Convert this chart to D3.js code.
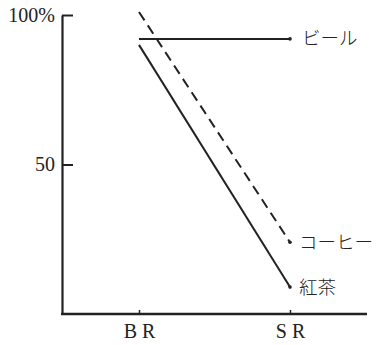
<!DOCTYPE html>
<html>
<head>
<meta charset="utf-8">
<script src="https://cdn.jsdelivr.net/npm/d3@7"></script>
<style>
  body { margin: 0; background: #fff; }
  text { fill: #222; }
</style>
</head>
<body>
<script>
var categories = ["B R", "S R"];
var beer = [92, 92];
var coffee = [101, 24];
var tea = [90, 9];
var seriesNames = ["ビール", "コーヒー", "紅茶"];
var yTicks = [50, 100];

var w = 378;
var h = 345;

var svg = d3.select("body")
    .append("svg")
    .attr("width", w)
    .attr("height", h);

var xScale = d3.scalePoint()
    .domain(categories)
    .range([139, 290]);

var yScale = d3.scaleLinear()
    .domain([0, 100])
    .range([314, 15]);

// y axis, ticks pointing right, labels on the left
var yAxis = d3.axisLeft(yScale)
    .tickValues(yTicks)
    .tickSizeInner(-11)
    .tickSizeOuter(0)
    .tickPadding(7)
    .tickFormat(function(d) { return d == 100 ? "100%" : d; });

var gy = svg.append("g")
    .attr("transform", "translate(62,0)")
    .call(yAxis);
gy.select(".domain").attr("stroke", "#222").attr("stroke-width", 2.2);
gy.selectAll(".tick line").attr("stroke", "#222").attr("stroke-width", 2);
gy.selectAll(".tick text")
    .style("font-family", "'Liberation Serif', 'DejaVu Serif', serif")
    .style("font-size", "20px")
    .attr("fill", "#222");

// x axis baseline
svg.append("line")
    .attr("x1", 61).attr("x2", 367)
    .attr("y1", 314).attr("y2", 314)
    .attr("stroke", "#222")
    .attr("stroke-width", 2.4);

var xAxis = d3.axisBottom(xScale)
    .tickSizeInner(-4)
    .tickSizeOuter(0)
    .tickPadding(10);

var gx = svg.append("g")
    .attr("transform", "translate(0,314)")
    .call(xAxis);
gx.select(".domain").remove();
gx.selectAll(".tick line").attr("stroke", "#222").attr("stroke-width", 1.5);
gx.selectAll(".tick text")
    .style("font-family", "'Liberation Serif', 'DejaVu Serif', serif")
    .style("font-size", "20px")
    .attr("fill", "#222");

var line = d3.line()
    .x(function(d, i) { return xScale(categories[i]); })
    .y(function(d) { return yScale(d); });

var series = [
  { name: seriesNames[0], values: beer, dash: null },
  { name: seriesNames[1], values: coffee, dash: "10,6" },
  { name: seriesNames[2], values: tea, dash: null }
];

svg.selectAll("path.series")
    .data(series)
    .enter()
    .append("path")
    .attr("class", "series")
    .attr("d", function(d) { return line(d.values); })
    .attr("fill", "none")
    .attr("stroke", "#222")
    .attr("stroke-width", 2)
    .attr("stroke-dasharray", function(d) { return d.dash; });

// end dots
svg.selectAll("circle.end")
    .data(series)
    .enter()
    .append("circle")
    .attr("class", "end")
    .attr("cx", xScale(categories[1]))
    .attr("cy", function(d) { return yScale(d.values[1]); })
    .attr("r", 1.8)
    .attr("fill", "#222");

svg.selectAll("text.label")
    .data(series)
    .enter()
    .append("text")
    .attr("class", "label")
    .attr("x", function(d, i) { return i == 0 ? 302 : 299; })
    .attr("y", function(d) { return yScale(d.values[1]); })
    .attr("dy", "0.35em")
    .style("font-family", "'Noto Sans CJK JP', sans-serif")
    .style("font-size", "18.5px")
    .style("font-weight", "300")
    .text(function(d) { return d.name; });
</script>
</body>
</html>
